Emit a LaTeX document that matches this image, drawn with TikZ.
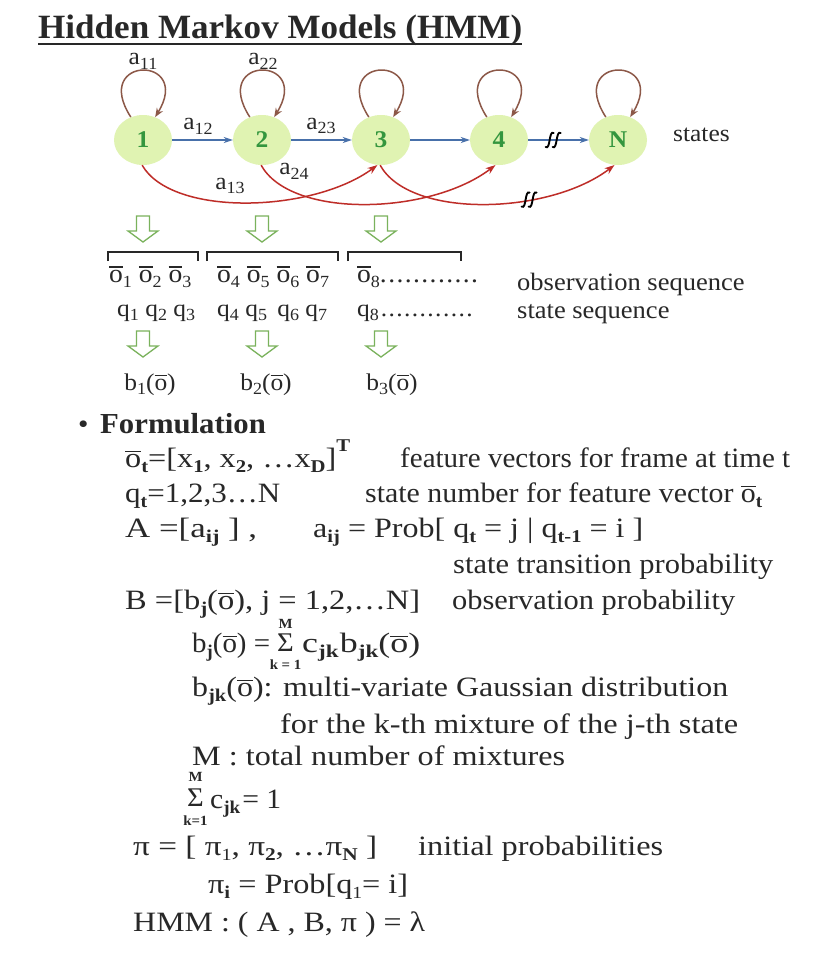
\documentclass[tikz,border=0pt]{standalone}
\usepackage{graphicx}
\usepackage{fontspec}
\setmainfont{Liberation Serif}[FakeStretch=1.06]
\usetikzlibrary{shapes.geometric,arrows.meta}

\definecolor{nodefill}{RGB}{224,243,178}
\definecolor{nodetext}{RGB}{52,150,62}
\definecolor{loopbrown}{RGB}{140,88,72}
\definecolor{arrblue}{RGB}{72,112,170}
\definecolor{arrred}{RGB}{190,45,40}
\definecolor{hollowgreen}{RGB}{122,178,92}
\definecolor{inkgray}{RGB}{40,40,40}

\newcommand\myobar{\vbox{\hrule height 1.1pt\kern 2.2pt\hbox{o}}}
\newcommand\sbf[1]{\raisebox{-0.2em}{\fontsize{18}{18}\selectfont\bfseries #1}}
\newcommand\sbn[1]{\raisebox{-0.2em}{\fontsize{17}{17}\selectfont #1}}
\newcommand\spf[1]{\raisebox{0.55em}{\fontsize{18}{18}\selectfont\bfseries #1}}
\newcommand\fitwd[2]{\resizebox{#1}{\height}{#2}}
\newcommand\dotrun{.\kern1.4pt.\kern1.4pt.\kern1.4pt.\kern1.4pt.\kern1.4pt.\kern1.4pt.\kern1.4pt.\kern1.4pt.\kern1.4pt.\kern1.4pt.\kern1.4pt.}

\tikzset{
  pics/hollowdown/.style={code={
    \draw[draw=hollowgreen, line width=1.3pt, fill=white]
      (-6.5,0) -- (6.5,0) -- (6.5,15) -- (15,15) -- (0,26) -- (-15,15) -- (-6.5,15) -- cycle;
  }},
  pics/breakmark/.style={code={
    \draw[line width=1.9pt, black, line cap=round] (-8,7) .. controls (-3,10) and (-5,-10) .. (0,-7);
    \draw[line width=1.9pt, black, line cap=round] (-1,7) .. controls (4,10) and (2,-10) .. (7,-7);
  }}
}

\begin{document}
\begin{tikzpicture}[x=1pt,y=-1pt,
  every node/.style={inner sep=0pt, text=inkgray},
  txt/.style={font=\fontsize{28}{30}\selectfont, anchor=base west},
  dtxt/.style={font=\fontsize{25}{28}\selectfont, anchor=base west},
  lbl/.style={font=\fontsize{24}{26}\selectfont},
  sigma/.style={font=\fontsize{27}{27}\selectfont, anchor=base west},
  state/.style={ellipse, fill=nodefill, minimum width=58pt, minimum height=50pt,
    text=nodetext, font=\fontsize{24}{24}\selectfont\bfseries},
  selfloop/.style={draw=loopbrown, line width=1.5pt, -{Stealth[length=9pt,width=7pt]}},
  fwd/.style={draw=arrblue, line width=1.3pt, -{Stealth[length=9pt,width=6pt]}},
  skip/.style={draw=arrred, line width=1.5pt, -{Stealth[length=10pt,width=7pt]}},
  bracket/.style={draw=inkgray, line width=1.2pt},
  lim/.style={font=\fontsize{14}{14}\selectfont\bfseries},
]
\fill[white] (0,0) rectangle (812,972);
\useasboundingbox (0,0) rectangle (812,972);

% title
\node[font=\fontsize{34}{36}\selectfont\bfseries, anchor=base west] (title) at (38,38) {\fitwd{484pt}{Hidden Markov Models (HMM)}};
\draw[line width=2pt, inkgray] ([yshift=-6pt]title.base west) -- ([yshift=-6pt]title.base east);

% states
\node[state] (n1) at (143,140) {1};
\node[state] (n2) at (262,140) {2};
\node[state] (n3) at (381,140) {3};
\node[state] (n4) at (499,140) {4};
\node[state] (nN) at (618,140) {N};
\node[lbl, anchor=base west] (stlab) at (673,141) {states};

% self loops
\foreach \n in {n1,n2,n3,n4,nN}{
  \draw[selfloop] (\n.118) .. controls +(-40,-62) and +(38,-62) .. (\n.62);
}
\node[lbl] (a11) at (143,61) {a\sbn{11}};
\node[lbl] (a22) at (263,61) {a\sbn{22}};

% forward arrows
\draw[fwd] (n1) -- (n2);
\draw[fwd] (n2) -- (n3);
\draw[fwd] (n3) -- (n4);
\draw[fwd] (n4) -- (nN) coordinate[pos=0.42] (brkB);
\pic at (brkB) {breakmark};
\node[lbl] (a12) at (198,126) {a\sbn{12}};
\node[lbl] (a23) at (321,126) {a\sbn{23}};

% skip arrows
\draw[skip] (n1.268) .. controls +(30,52) and +(-65,48) .. (n3.262);
\draw[skip] (n2.268) .. controls +(30,54) and +(-65,50) .. (n4.262);
\draw[skip] (n3.268) .. controls +(30,54) and +(-65,50) .. (nN.262) coordinate[pos=0.66] (brkR);
\pic at (brkR) {breakmark};
\node[lbl] (a13) at (230,186) {a\sbn{13}};
\node[lbl] (a24) at (294,171) {a\sbn{24}};

% hollow arrows
\pic (h1) at (143,216) {hollowdown};
\pic (h2) at (262,216) {hollowdown};
\pic (h3) at (381,216) {hollowdown};
\pic (h4) at (143,331) {hollowdown};
\pic (h5) at (262,331) {hollowdown};
\pic (h6) at (381,331) {hollowdown};

% brackets
\draw[bracket] (108,261) -- (108,252) -- (198,252) -- (198,261);
\draw[bracket] (207,261) -- (207,252) -- (338,252) -- (338,261);
\draw[bracket] (348,261) -- (348,252) -- (461,252) -- (461,261);

% sequences
\node[dtxt, font=\fontsize{26}{28}\selectfont] (obs1) at (109,282) {\myobar\sbn{1} \myobar\sbn{2} \myobar\sbn{3}};
\node[dtxt, font=\fontsize{26}{28}\selectfont] (obs2) at (217,282) {\myobar\sbn{4} \myobar\sbn{5} \myobar\sbn{6} \myobar\sbn{7}};
\node[dtxt, font=\fontsize{26}{28}\selectfont] (obs3) at (357,282) {\myobar\sbn{8}\dotrun};
\node[dtxt, font=\fontsize{24}{28}\selectfont] (qs1) at (117,316) {q\sbn{1} q\sbn{2} q\sbn{3}};
\node[dtxt, font=\fontsize{24}{28}\selectfont] (qs2) at (217,316) {q\sbn{4} q\sbn{5} \,q\sbn{6} q\sbn{7}};
\node[dtxt, font=\fontsize{24}{28}\selectfont] (qs3) at (357,316) {q\sbn{8}\kern2pt\dotrun};
\node[dtxt] (obslab) at (517,290) {observation sequence};
\node[dtxt] (qlab) at (517,318) {state sequence};
\node[dtxt, font=\fontsize{24}{28}\selectfont, anchor=base] (b1) at (150,390) {b\sbn{1}(\myobar)};
\node[dtxt, font=\fontsize{24}{28}\selectfont, anchor=base] (b2) at (266,390) {b\sbn{2}(\myobar)};
\node[dtxt, font=\fontsize{24}{28}\selectfont, anchor=base] (b3) at (392,390) {b\sbn{3}(\myobar)};

% formulation
\node[txt] (bul) at (78,433) {•};
\node[txt, font=\fontsize{29}{30}\selectfont\bfseries] (form) at (100,433) {Formulation};
\node[txt] (r1a) at (125,467) {\fitwd{225pt}{\myobar\sbf{t}=[x\sbf{1}, x\sbf{2}, …x\sbf{D}]\spf{T}}};
\node[txt] (r1b) at (400,467) {\fitwd{390pt}{feature vectors for frame at time t}};
\node[txt] (r2a) at (125,502) {\fitwd{155pt}{q\sbf{t}=1,2,3…N}};
\node[txt] (r2b) at (365,502) {\fitwd{397pt}{state number for feature vector \myobar\sbf{t}}};
\node[txt] (r3a) at (125,537) {\fitwd{132pt}{A =[a\sbf{ij} ] ,}};
\node[txt] (r3b) at (313,537) {\fitwd{330pt}{a\sbf{ij} = Prob[ q\sbf{t} = j | q\sbf{t-1} = i ]}};
\node[txt] (r4b) at (453,573) {\fitwd{320pt}{state transition probability}};
\node[txt] (r5a) at (125,609) {\fitwd{295pt}{B =[b\sbf{j}(\myobar), j = 1,2,…N]}};
\node[txt] (r5b) at (452,609) {\fitwd{283pt}{observation probability}};

\node[txt] (r6a) at (192,652) {\fitwd{78pt}{b\sbf{j}(\myobar) =}};
\node[sigma] (sig1) at (277,651) {Σ};
\node[lim, anchor=base] (sig1up) at (sig1.north |- 0,628) {M};
\node[lim, anchor=north] (sig1lo) at (sig1.south |- 0,660) {k = 1};
\node[txt] (r6b) at (302,652) {\fitwd{118pt}{c\sbf{jk}\kern1pt b\sbf{jk}(\myobar)}};

\node[txt] (r7) at (192,696) {\fitwd{536pt}{b\sbf{jk}(\myobar): multi-variate Gaussian distribution}};
\node[txt] (r8) at (280,733) {\fitwd{458pt}{for the k-th mixture of the j-th state}};
\node[txt] (r9) at (192,765) {\fitwd{373pt}{M : total number of mixtures}};

\node[sigma] (sig2) at (187,806) {Σ};
\node[lim, anchor=base] (sig2up) at (sig2.north |- 0,781) {M};
\node[lim, anchor=north] (sig2lo) at (sig2.south |- 0,816) {k=1};
\node[txt] (r10) at (210,808) {c\sbf{jk}\kern2pt = 1};

\node[txt] (r11a) at (133,855) {\fitwd{244pt}{π = [ π\sbn{1}, π\sbf{2}, …π\sbf{N} ]}};
\node[txt] (r11b) at (418,855) {\fitwd{245pt}{initial probabilities}};
\node[txt] (r12) at (208,893) {\fitwd{200pt}{π\sbf{i} = Prob[q\sbn{1}= i]}};
\node[txt] (r13) at (133,931) {\fitwd{292pt}{HMM : ( A , B, π ) = λ}};
\end{tikzpicture}
\end{document}
